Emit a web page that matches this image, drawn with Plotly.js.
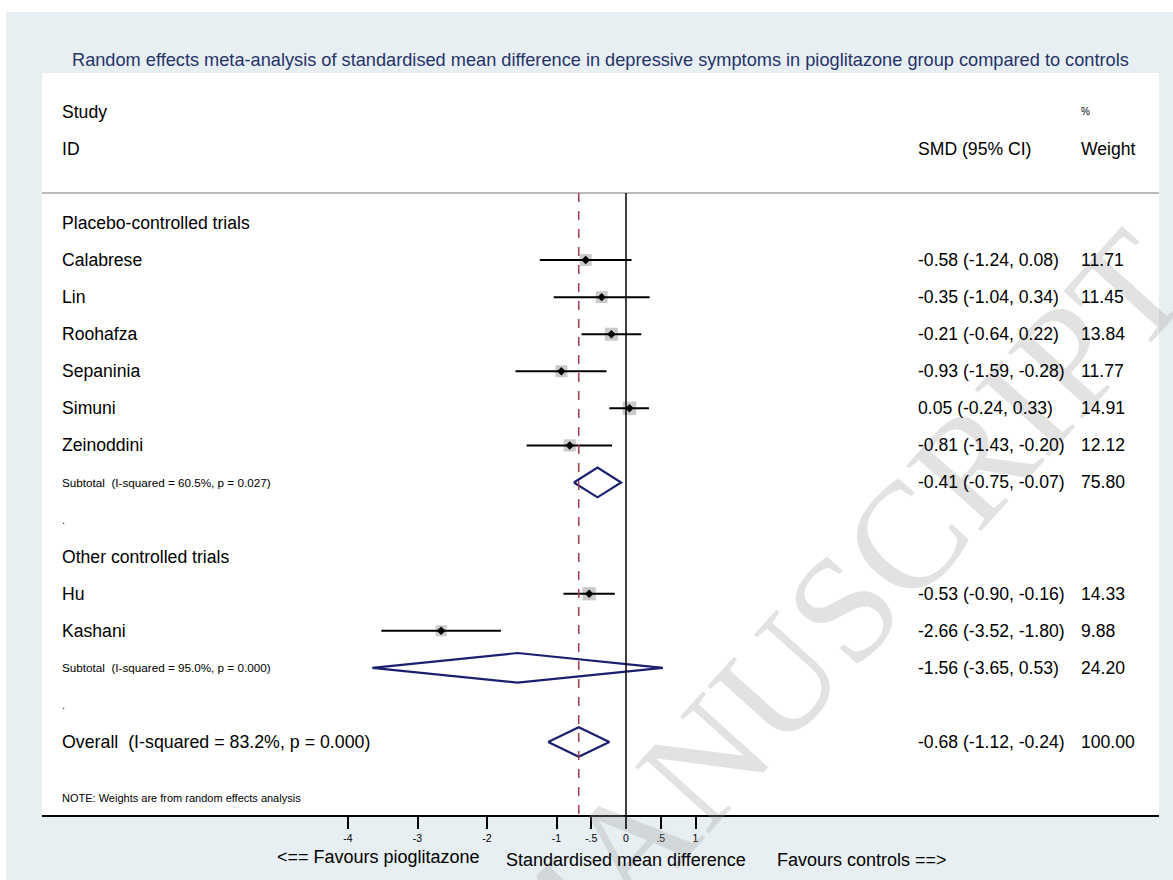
<!DOCTYPE html>
<html>
<head>
<meta charset="utf-8">
<script src="https://cdn.plot.ly/plotly-3.0.1.min.js"></script>
<style>
  html, body { margin: 0; padding: 0; background: #ffffff; }
  #chart { position: absolute; left: 6px; top: 12px; width: 1167px; height: 868px; }
</style>
</head>
<body>
<div id="chart"></div>
<script>
// ---------------- data ----------------
const studies   = ["Calabrese", "Lin", "Roohafza", "Sepaninia", "Simuni", "Zeinoddini", "Hu", "Kashani"];
const studyRows = [2, 3, 4, 5, 6, 7, 11, 12];
const smd       = [-0.58, -0.35, -0.21, -0.93, 0.05, -0.81, -0.53, -2.66];
const ciLow     = [-1.24, -1.04, -0.64, -1.59, -0.24, -1.43, -0.90, -3.52];
const ciHigh    = [0.08, 0.34, 0.22, -0.28, 0.33, -0.20, -0.16, -1.80];
const weights   = [11.71, 11.45, 13.84, 11.77, 14.91, 12.12, 14.33, 9.88];

const groupLabels = ["Placebo-controlled trials", "Other controlled trials"];
const groupRows   = [1, 10];

const pooledLabels = ["Subtotal  (I-squared = 60.5%, p = 0.027)",
                      "Subtotal  (I-squared = 95.0%, p = 0.000)",
                      "Overall  (I-squared = 83.2%, p = 0.000)"];
const pooledRows   = [8, 13, 15];
const pooledSmd    = [-0.41, -1.56, -0.68];
const pooledLow    = [-0.75, -3.65, -1.12];
const pooledHigh   = [-0.07, 0.53, -0.24];
const pooledWeight = [75.80, 24.20, 100.00];

const tickVals = [-4, -3, -2, -1, -0.5, 0, 0.5, 1];
const tickText = ["-4", "-3", "-2", "-1", "-.5", "0", ".5", "1"];

const titleText = "Random effects meta-analysis of standardised mean difference in depressive symptoms in pioglitazone group compared to controls";
const noteText  = "NOTE: Weights are from random effects analysis";
const watermarkText = "ACCEPTED MANUSCRIPT";

// ---------------- layout helpers ----------------
const FONT = "Liberation Sans, Arial, Helvetica, sans-serif";
const plotL = 42, plotR = 1159, plotT = 73, plotB = 815;   // page px of plot area
const px = p => (p - plotL) / (plotR - plotL);             // page x -> paper x
const py = p => (plotB - p) / (plotB - plotT);             // page y -> paper y
const zeroPx = 626, unitPx = 69.5;
const xRange = [(plotL - zeroPx) / unitPx, (plotR - zeroPx) / unitPx];
const rowPx = 37.07, row1Px = 223;
const rowOf = p => 1 + (p - row1Px) / rowPx;
const yRange = [rowOf(plotB), rowOf(plotT)];
const sepRow = rowOf(193);
const fmt = v => v.toFixed(2);

// ---------------- traces ----------------
const traces = [];

// weight boxes
traces.push({
  type: "scatter", mode: "markers", x: smd, y: studyRows,
  marker: { symbol: "square", color: "#b4b4b4", size: weights.map(w => 3.5 * Math.sqrt(w)), line: { width: 0 } },
  hoverinfo: "skip", showlegend: false
});

// confidence interval lines
const ciX = [], ciY = [];
studies.forEach((s, i) => { ciX.push(ciLow[i], ciHigh[i], null); ciY.push(studyRows[i], studyRows[i], null); });
traces.push({
  type: "scatter", mode: "lines", x: ciX, y: ciY,
  line: { color: "#000000", width: 2 }, hoverinfo: "skip", showlegend: false
});

// point estimates
traces.push({
  type: "scatter", mode: "markers", x: smd, y: studyRows,
  marker: { symbol: "diamond", color: "#000000", size: 6.5 },
  hoverinfo: "skip", showlegend: false
});

// pooled diamonds
const dh = 0.4;
const dX = [], dY = [];
pooledSmd.forEach((v, i) => {
  const r = pooledRows[i];
  dX.push(pooledLow[i], v, pooledHigh[i], v, pooledLow[i], null);
  dY.push(r, r - dh, r, r + dh, r, null);
});
traces.push({
  type: "scatter", mode: "lines", x: dX, y: dY,
  line: { color: "#1a1f6e", width: 2.2 }, hoverinfo: "skip", showlegend: false
});

// ---------------- annotations ----------------
const ann = [];
// watermark
ann.push({
  xref: "paper", yref: "paper", x: px(556), y: py(927), xanchor: "center", yanchor: "middle",
  text: watermarkText, textangle: -48, showarrow: false,
  font: { family: "Liberation Serif, Times New Roman, serif", size: 152, color: "rgba(160,160,160,0.3)" }
});
// title
ann.push({
  xref: "paper", yref: "paper", x: 0.5, y: py(60), xanchor: "center", yanchor: "middle",
  text: titleText, showarrow: false, font: { family: FONT, size: 18.2, color: "#24336a" }
});
const leftX = px(60), smdX = px(916), wX = px(1079);
const txt = (x, row, text, size, anchor) => ann.push({
  xref: "paper", yref: "y", x: x, y: row, xanchor: anchor || "left", yanchor: "middle",
  text: text, showarrow: false, font: { family: FONT, size: size, color: "#000000" }
});
// header
txt(leftX, -2, "Study", 17.6);
txt(leftX, -1, "ID", 17.6);
txt(wX, -2, "%", 10);
txt(smdX, -1, "SMD (95% CI)", 17.6);
txt(wX, -1, "Weight", 17.6);
// groups
groupLabels.forEach((g, i) => txt(leftX, groupRows[i], g, 17.6));
// studies
studies.forEach((s, i) => {
  txt(leftX, studyRows[i], s, 17.6);
  txt(smdX, studyRows[i], `${fmt(smd[i])} (${fmt(ciLow[i])}, ${fmt(ciHigh[i])})`, 17.6);
  txt(wX, studyRows[i], fmt(weights[i]), 17.6);
});
// pooled
pooledLabels.forEach((p, i) => {
  const isOverall = i === pooledLabels.length - 1;
  txt(leftX, pooledRows[i], p, isOverall ? 17.8 : 11.7);
  txt(smdX, pooledRows[i], `${fmt(pooledSmd[i])} (${fmt(pooledLow[i])}, ${fmt(pooledHigh[i])})`, 17.6);
  txt(wX, pooledRows[i], fmt(pooledWeight[i]), 17.6);
});
// spacer dots
txt(leftX, 9, ".", 11);
txt(leftX, 14, ".", 11);
// note
txt(leftX, 16.5, noteText, 11);
// axis captions
ann.push({ xref: "paper", yref: "paper", x: px(378), y: py(857), xanchor: "center", yanchor: "middle",
  text: "<== Favours pioglitazone", showarrow: false, font: { family: FONT, size: 18, color: "#000000" } });
ann.push({ xref: "paper", yref: "paper", x: px(626), y: py(860), xanchor: "center", yanchor: "middle",
  text: "Standardised mean difference", showarrow: false, font: { family: FONT, size: 18, color: "#000000" } });
ann.push({ xref: "paper", yref: "paper", x: px(862), y: py(860), xanchor: "center", yanchor: "middle",
  text: "Favours controls ==>", showarrow: false, font: { family: FONT, size: 18, color: "#000000" } });

// ---------------- shapes ----------------
const shapes = [
  { type: "line", xref: "paper", yref: "y", x0: 0, x1: 1, y0: sepRow, y1: sepRow, line: { color: "#b9b9b9", width: 2 } },
  { type: "line", xref: "x", yref: "y", x0: 0, x1: 0, y0: sepRow, y1: yRange[0], line: { color: "#000000", width: 1.5 } },
  { type: "line", xref: "x", yref: "y", x0: pooledSmd[2], x1: pooledSmd[2], y0: sepRow, y1: yRange[0],
    line: { color: "#a0404a", width: 1.5, dash: "dash" } }
];

const layout = {
  width: 1167, height: 868,
  margin: { l: plotL - 6, r: 1173 - plotR, t: plotT - 12, b: 880 - plotB, pad: 0 },
  paper_bgcolor: "#e8eff2", plot_bgcolor: "#ffffff",
  showlegend: false,
  font: { family: FONT, color: "#000000" },
  xaxis: {
    range: xRange, tickmode: "array", tickvals: tickVals, ticktext: tickText,
    ticks: "outside", ticklen: 12, tickwidth: 2, tickcolor: "#000000",
    showline: true, linecolor: "#000000", linewidth: 2, mirror: false,
    showgrid: false, zeroline: false, fixedrange: true,
    tickfont: { family: FONT, size: 10.5, color: "#000000" }
  },
  yaxis: { range: yRange, visible: false, showgrid: false, zeroline: false, fixedrange: true },
  shapes: shapes,
  annotations: ann
};

Plotly.newPlot("chart", traces, layout, { staticPlot: true, displayModeBar: false });
</script>
</body>
</html>
